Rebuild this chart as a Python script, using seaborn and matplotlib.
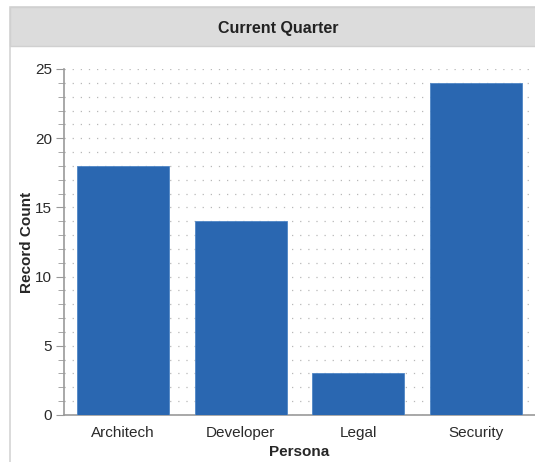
import matplotlib
matplotlib.use("Agg")
import matplotlib.pyplot as plt
import seaborn as sns
import pandas as pd
from matplotlib.patches import Rectangle
from matplotlib.ticker import MultipleLocator

# values
personas = ["Architech", "Developer", "Legal", "Security"]
record_counts = [18, 14, 3, 24]

df = pd.DataFrame({"Persona": personas, "Record Count": record_counts})

sns.set_style("white")
plt.rcParams["font.family"] = ["Liberation Sans", "DejaVu Sans"]

fig = plt.figure(figsize=(5.35, 4.62), dpi=100)

# panel frame + grey title band
W, H = 535, 462
fig.patches.append(Rectangle((10 / W, -0.05), 1.1, (H - 7) / H + 0.05, transform=fig.transFigure,
                             facecolor="none", edgecolor="#d4d4d4", linewidth=1.2, zorder=-2))
fig.patches.append(Rectangle((10 / W, (H - 46) / H), 1.1, 39 / H, transform=fig.transFigure,
                             facecolor="#dcdcdc", edgecolor="#d0d0d0", linewidth=1, zorder=-1))
fig.text(278 / W, (H - 28) / H, "Current Quarter", ha="center", va="center",
         fontsize=11.5, fontweight="bold", color="#222222")

ax = fig.add_axes([64 / W, (H - 415) / H, (W - 64) / W, (415 - 69) / H])
ax.set_zorder(2)
ax.patch.set_alpha(0)
sns.barplot(data=df, x="Persona", y="Record Count", color="#2a67b1", width=0.78,
            edgecolor="#4f86c6", linewidth=0.6, saturation=1, ax=ax, zorder=3)

ax.set_xlim(-0.5, 3.5)
ax.set_ylim(0, 25)
ax.yaxis.set_major_locator(MultipleLocator(5))
ax.yaxis.set_minor_locator(MultipleLocator(1))
ax.grid(True, which="both", axis="y", color="#b8b8b8", linestyle=(0, (1, 5.5)), linewidth=0.9, zorder=0)
ax.grid(False, axis="x")

for s in ["top", "right"]:
    ax.spines[s].set_visible(False)
for s in ["left", "bottom"]:
    ax.spines[s].set_color("#999999")
    ax.spines[s].set_linewidth(1.2)

# x ticks sit on category boundaries, labels centred in categories
ax.set_xticks([0.5, 1.5, 2.5])
ax.set_xticklabels([])
ax.set_xticks(range(len(personas)), minor=True)
ax.set_xticklabels(personas, minor=True)
ax.tick_params(axis="x", which="major", length=5, color="#999999", direction="out")
ax.tick_params(axis="x", which="minor", length=0, labelsize=11, labelcolor="#2a2a2a", pad=8)
ax.tick_params(axis="y", which="major", length=6, color="#999999", labelsize=11,
               labelcolor="#2a2a2a", left=True, pad=2.5)
ax.tick_params(axis="y", which="minor", length=4, color="#999999", left=True)

ax.set_xlabel("Persona", fontsize=11, fontweight="bold")
ax.set_ylabel("Record Count", fontsize=11, fontweight="bold")
ax.xaxis.set_label_coords(0.5, -0.088)
ax.yaxis.set_label_coords(-0.064, 0.5)

fig.savefig("out.png", dpi=100)
